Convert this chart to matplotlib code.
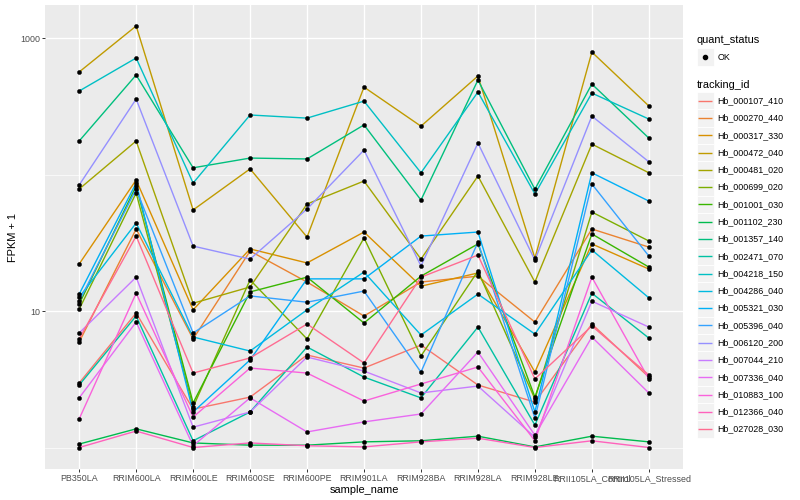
import matplotlib
matplotlib.use('Agg')
import matplotlib.pyplot as plt
from matplotlib.patches import Rectangle
from matplotlib.ticker import FixedLocator, NullFormatter

plt.rcParams['font.family'] = ['Liberation Sans', 'DejaVu Sans']

samples = ["PB350LA", "RRIM600LA", "RRIM600LE", "RRIM600SE", "RRIM600PE", "RRIM901LA",
           "RRIM928BA", "RRIM928LA", "RRIM928LE", "RRII105LA_Control", "RRII105LA_Stressed"]

tracking_ids = ["Hb_000107_410", "Hb_000270_440", "Hb_000317_330", "Hb_000472_040", "Hb_000481_020",
                "Hb_000699_020", "Hb_001001_030", "Hb_001102_230", "Hb_001357_140", "Hb_002471_070",
                "Hb_004218_150", "Hb_004286_040", "Hb_005321_030", "Hb_005396_040", "Hb_006120_200",
                "Hb_007044_210", "Hb_007336_040", "Hb_010883_100", "Hb_012366_040", "Hb_027028_030"]

colors = ["#F8766D", "#EA8331", "#D89000", "#C09B00", "#A3A500", "#7CAE00", "#39B600", "#00BB4E",
          "#00BF7D", "#00C1A3", "#00BFC4", "#00BAE0", "#00B0F6", "#35A2FF", "#9590FF", "#C77CFF",
          "#E76BF3", "#FA62DB", "#FF62BC", "#FF6C91"]

# FPKM + 1 per sample (order of `samples`)
hb_000107_410 = [2.97, 9.67, 1.91, 2.34, 4.76, 3.82, 5.63, 2.87, 2.15, 8.03, 3.28]
hb_000270_440 = [5.93, 39.9, 6.24, 27.5, 16.3, 9.19, 16.3, 18.0, 8.30, 39.9, 29.4]
hb_000317_330 = [22.1, 91.2, 10.2, 28.5, 22.5, 37.9, 15.2, 19.0, 3.57, 31.0, 20.3]
hb_000472_040 = [564, 1225, 55.0, 110, 34.8, 437, 226, 527, 24.4, 789, 318]
hb_000481_020 = [78.3, 176, 11.4, 15.0, 60.8, 89.6, 24.0, 97.5, 16.3, 167, 103]
hb_000699_020 = [10.3, 73.2, 1.98, 16.9, 6.24, 34.3, 4.68, 19.6, 2.27, 53.1, 32.6]
hb_001001_030 = [11.25, 82.4, 2.12, 13.8, 17.7, 8.17, 18.0, 31.0, 2.34, 36.7, 21.0]
hb_001102_230 = [1.06, 1.37, 1.08, 1.04, 1.04, 1.10, 1.12, 1.21, 1.01, 1.21, 1.10]
hb_001357_140 = [176, 536, 112, 132, 130, 231, 65, 492, 78, 460, 185]
hb_002471_070 = [2.87, 9.19, 1.12, 1.82, 5.45, 3.28, 2.31, 7.63, 1.46, 13.5, 6.34]
hb_004218_150 = [409, 714, 86.6, 273, 259, 345, 103, 402, 72, 395, 255]
hb_004286_040 = [12.6, 44.1, 6.45, 5.09, 10.2, 19.3, 6.67, 13.3, 6.78, 28.0, 12.5]
hb_005321_030 = [13.3, 86.6, 1.82, 4.38, 17.2, 17.2, 35.4, 37.9, 1.82, 103, 63.9]
hb_005396_040 = [11.8, 78.3, 6.90, 12.9, 11.6, 14.0, 3.57, 32.0, 1.64, 85.2, 25.3]
hb_006120_200 = [83.8, 357, 29.9, 24.0, 55.9, 151, 21.4, 170, 23.6, 268, 124]
hb_007044_210 = [6.90, 17.7, 1.41, 1.82, 4.60, 3.63, 2.51, 2.82, 1.19, 11.8, 7.63]
hb_007336_040 = [2.31, 8.30, 1.03, 2.31, 1.30, 1.54, 1.76, 5.01, 1.23, 6.45, 2.51]
hb_010883_100 = [1.62, 13.5, 1.67, 3.82, 3.51, 2.19, 2.92, 3.89, 1.12, 17.7, 3.18]
hb_012366_040 = [1.00, 1.32, 1.00, 1.08, 1.03, 1.01, 1.10, 1.17, 1.00, 1.12, 1.00]
hb_027028_030 = [6.24, 35.4, 3.51, 4.53, 8.03, 4.16, 17.7, 25.7, 3.18, 7.77, 3.40]

series = [hb_000107_410, hb_000270_440, hb_000317_330, hb_000472_040, hb_000481_020,
          hb_000699_020, hb_001001_030, hb_001102_230, hb_001357_140, hb_002471_070,
          hb_004218_150, hb_004286_040, hb_005321_030, hb_005396_040, hb_006120_200,
          hb_007044_210, hb_007336_040, hb_010883_100, hb_012366_040, hb_027028_030]

W, H = 800, 500
fig = plt.figure(figsize=(8, 5), dpi=100)
fig.patch.set_facecolor('white')

# panel in pixel terms: left 45, right 683, top 5, bottom 469
ax = fig.add_axes([45 / W, (H - 469) / H, 638 / W, 464 / H])
ax.set_facecolor('#EBEBEB')
for s in ax.spines.values():
    s.set_visible(False)

x = list(range(len(samples)))
for vals, c in zip(series, colors):
    ax.plot(x, vals, color=c, lw=1.0, zorder=2, solid_capstyle='butt')
for vals in series:
    ax.plot(x, vals, linestyle='none', marker='o', ms=3.0, mfc='black', mec='black', mew=0.3, zorder=3)

ax.set_yscale('log')
ax.set_ylim(10 ** -0.1575, 10 ** 3.242)
ax.set_xlim(-0.6, len(samples) - 1 + 0.6)

ax.yaxis.set_major_locator(FixedLocator([10, 1000]))
ax.set_yticklabels(["10", "1000"])
ax.yaxis.set_minor_locator(FixedLocator([1, 100]))
ax.yaxis.set_minor_formatter(NullFormatter())
ax.set_xticks(x)
ax.set_xticklabels(samples)

ax.grid(True, which='major', color='white', lw=1.0)
ax.grid(True, which='minor', axis='y', color='white', lw=0.5)
ax.set_axisbelow(True)

ax.tick_params(axis='both', which='major', length=2.0, width=0.7, color='#333333',
               labelsize=6.4, labelcolor='#4D4D4D', pad=1.5)
ax.tick_params(axis='y', which='minor', length=0)

ax.set_xlabel("sample_name", fontsize=7.9, color='black', labelpad=1.5)
ax.set_ylabel("FPKM + 1", fontsize=7.9, color='black', labelpad=1.5)

# legend drawn in pixel coordinates
lg = fig.add_axes([0, 0, 1, 1], facecolor='none')
lg.set_xlim(0, W)
lg.set_ylim(H, 0)
lg.axis('off')

key = 17.28
kx = 696.5
lg.text(kx, 40, "quant_status", fontsize=7.9, va='center', ha='left', color='black')
lg.add_patch(Rectangle((kx, 57 - key / 2), key, key, facecolor='#F2F2F2', edgecolor='white', lw=0.6))
lg.plot([kx + key / 2], [57], marker='o', ms=3.0, color='black', linestyle='none')
lg.text(kx + key + 3.5, 57, "OK", fontsize=6.4, va='center', ha='left', color='black')

lg.text(kx, 84.5, "tracking_id", fontsize=7.9, va='center', ha='left', color='black')
y0 = 100.8
for i, (tid, c) in enumerate(zip(tracking_ids, colors)):
    yc = y0 + i * key
    lg.add_patch(Rectangle((kx, yc - key / 2), key, key, facecolor='#F2F2F2', edgecolor='white', lw=0.6))
    lg.plot([kx + 1.7, kx + key - 1.7], [yc, yc], color=c, lw=1.0, solid_capstyle='butt')
    lg.text(kx + key + 3.5, yc, tid, fontsize=6.4, va='center', ha='left', color='black')

fig.savefig("out.png", dpi=100)
